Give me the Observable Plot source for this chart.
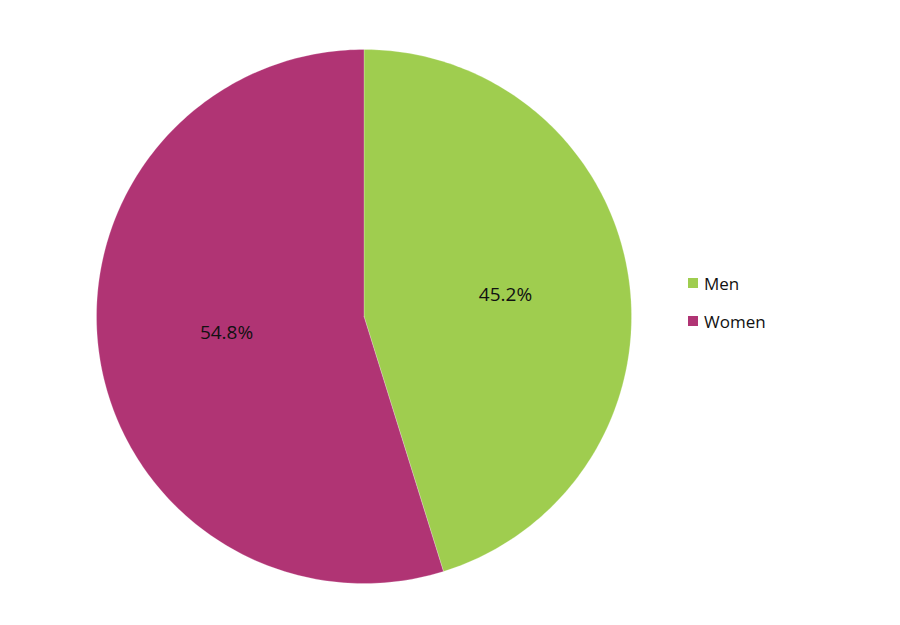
<!DOCTYPE html>
<html>
<head>
<meta charset="utf-8">
<script src="https://cdn.jsdelivr.net/npm/d3@7"></script>
<script src="https://cdn.jsdelivr.net/npm/@observablehq/plot@0.6"></script>
<style>
  html, body { margin: 0; padding: 0; background: #fff; }
  #wrap { position: relative; width: 900px; height: 625px; font-family: "Open Sans", sans-serif; }
  #legend { position: absolute; left: 688px; top: 264px; font-size: 17px; color: #111; }
  .item { display: flex; align-items: center; height: 38px; }
  .sw { width: 10px; height: 10px; margin-right: 6px; }
</style>
</head>
<body>
<div id="wrap"></div>
<script>
const categories = ["Men", "Women"];
const shares = [45.2, 54.8];
const colors = ["#9fcd4f", "#b03474"];

const pie = d3.pie().sort(null).value(d => d.value)(categories.map((c, i) => ({name: c, value: shares[i]})));

// polygon outline of each slice, in unit-circle coordinates
const pts = [];
pie.forEach(s => {
  pts.push({name: s.data.name, x: 0, y: 0});
  const n = 200;
  for (let k = 0; k <= n; k++) {
    const a = s.startAngle + (s.endAngle - s.startAngle) * k / n;
    pts.push({name: s.data.name, x: Math.sin(a), y: Math.cos(a)});
  }
  pts.push({name: s.data.name, x: 0, y: 0});
});
const labels = pie.map(s => {
  const a = (s.startAngle + s.endAngle) / 2;
  const women = s.data.name === "Women";
  return {name: s.data.name, x: 0.535 * Math.sin(a) + (women ? 0.015 : 0), y: 0.535 * Math.cos(a) + (women ? 0.02 : 0), text: s.data.value.toFixed(1) + "%"};
});

const chart = Plot.plot({
  width: 900,
  height: 625,
  marginLeft: 96,
  marginRight: 269,
  marginTop: 49,
  marginBottom: 42,
  x: {domain: [-1, 1], axis: null},
  y: {domain: [-1, 1], axis: null},
  color: {domain: categories, range: colors},
  style: {fontFamily: "Open Sans, sans-serif", background: "#fff"},
  marks: [
    Plot.line(pts, {x: "x", y: "y", z: "name", fill: "name", stroke: "#fff", strokeWidth: 0.4, strokeOpacity: 0.6, curve: "linear"}),
    Plot.text(labels, {x: "x", y: "y", text: "text", fontSize: 19, fill: "#111"})
  ]
});
document.getElementById("wrap").appendChild(chart);

const legend = document.createElement("div");
legend.id = "legend";
categories.forEach((c, i) => {
  const it = document.createElement("div");
  it.className = "item";
  it.innerHTML = `<span class="sw" style="background:${colors[i]}"></span><span>${c}</span>`;
  legend.appendChild(it);
});
document.getElementById("wrap").appendChild(legend);
</script>
</body>
</html>
